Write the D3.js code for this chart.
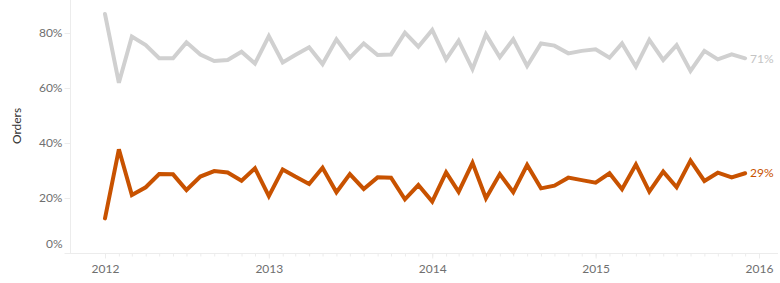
<!DOCTYPE html>
<meta charset="utf-8">

<script src="https://d3js.org/d3.v7.min.js"></script>

<style type="text/css">

body {
  margin: 0;
  background: #fff;
}

.axis text {
  font-family: Lato, "Open Sans", sans-serif;
  font-size: 12px;
  fill: #6f6f6f;
}

.axis path {
  display: none;
}

.axis line {
  stroke: #ececec;
}

.endLabel {
  font-family: Lato, "Open Sans", sans-serif;
  font-size: 12px;
}

</style>

<body>
</body>

<script>

// monthly share of orders, Jan 2012 .. Dec 2015
var months = d3.range(48).map(function(i) { return new Date(2012, i, 1); });

var grayValues = [
  86.9, 61.9, 78.7, 75.6, 70.8, 70.8, 76.6, 72.2, 69.8, 70.2, 73.2, 68.9,
  78.9, 69.3, 72.0, 74.8, 68.7, 77.7, 71.0, 76.2, 72.0, 72.2, 80.1, 75.0,
  81.1, 70.4, 77.2, 66.9, 79.5, 71.2, 77.7, 68.0, 76.2, 75.4, 72.6, 73.5,
  74.1, 71.0, 76.2, 67.8, 77.5, 70.2, 75.6, 66.2, 73.5, 70.4, 72.2, 70.8
];

var orangeValues = [
  12.6, 37.7, 21.1, 23.9, 28.7, 28.6, 22.9, 27.8, 29.8, 29.3, 26.3, 30.8,
  20.7, 30.4, 27.8, 25.1, 31.0, 22.1, 28.7, 23.3, 27.5, 27.4, 19.5, 24.7,
  18.7, 29.3, 22.2, 32.8, 19.9, 28.7, 22.1, 32.0, 23.5, 24.5, 27.4, 26.5,
  25.6, 29.0, 23.2, 32.2, 22.3, 29.6, 23.9, 33.6, 26.2, 29.2, 27.5, 29.0
];

var yTicks = [0, 20, 40, 60, 80];
var yearTicks = [2012, 2013, 2014, 2015, 2016];

var series = [
  {name: 'gray', values: grayValues, color: '#d0d0d0', labelColor: '#c4c4c4'},
  {name: 'orange', values: orangeValues, color: '#c85200', labelColor: '#c85200'}
];

var width = 780, height = 283;
var plotLeft = 70, plotRight = 778, plotTop = 0, plotBottom = 253;

var svg = d3.select('body').append('svg')
    .attr('width', width)
    .attr('height', height);

// scales
var xScale = d3.scaleTime()
  .domain([new Date(2012, 0, 1), new Date(2016, 0, 1)])
  .range([105, 759]);

var yScale = d3.scaleLinear()
  .domain([0, 92])
  .range([plotBottom, plotTop]);

// left border of the pane
svg.append('line')
  .attr('x1', plotLeft + 0.5).attr('x2', plotLeft + 0.5)
  .attr('y1', plotTop).attr('y2', plotBottom)
  .attr('stroke', '#ececec');

// bottom axis line
svg.append('line')
  .attr('x1', plotLeft - 5).attr('x2', plotRight)
  .attr('y1', plotBottom + 0.5).attr('y2', plotBottom + 0.5)
  .attr('stroke', '#ececec');

// y axis
var yAxis = d3.axisLeft(yScale)
  .tickValues(yTicks)
  .tickSize(6)
  .tickPadding(2)
  .tickFormat(function(d) { return d + '%'; });

var yAxisGroup = svg.append('g')
  .attr('class', 'y axis')
  .attr('transform', 'translate(' + (plotLeft + 0.5) + ',0)')
  .call(yAxis);

// tableau nudges the bottom label up so it is not clipped
yAxisGroup.selectAll('.tick text')
  .attr('dy', function(d) { return d === 0 ? '-0.5em' : '0.32em'; });

// minor month ticks
svg.append('g')
  .attr('class', 'x axis minor')
  .attr('transform', 'translate(0,' + (plotBottom + 0.5) + ')')
  .call(d3.axisBottom(xScale)
    .ticks(d3.timeMonth.every(1))
    .tickSize(3)
    .tickFormat(''));

// year ticks
var xAxis = d3.axisBottom(xScale)
  .tickValues(yearTicks.map(function(y) { return new Date(y, 0, 1); }))
  .tickSize(5)
  .tickPadding(6)
  .tickFormat(d3.timeFormat('%Y'));

svg.append('g')
  .attr('class', 'x axis')
  .attr('transform', 'translate(0,' + (plotBottom + 0.5) + ')')
  .call(xAxis);

// axis title
svg.append('text')
  .attr('transform', 'translate(21,' + 126 + ') rotate(-90)')
  .attr('text-anchor', 'middle')
  .style('font-family', 'Lato, "Open Sans", sans-serif')
  .style('font-size', '12px')
  .style('fill', '#333')
  .text('Orders');

// lines
var line = d3.line()
  .x(function(d, i) { return xScale(months[i]); })
  .y(function(d) { return yScale(d); });

svg.selectAll('.seriesLine')
  .data(series).enter().append('path')
  .attr('class', 'seriesLine')
  .attr('d', function(d) { return line(d.values); })
  .attr('fill', 'none')
  .attr('stroke', function(d) { return d.color; })
  .attr('stroke-width', 4)
  .attr('stroke-linejoin', 'miter')
  .attr('stroke-linecap', 'round');

// end labels
svg.selectAll('.endLabel')
  .data(series).enter().append('text')
  .attr('class', 'endLabel')
  .attr('x', xScale(months[47]) + 5)
  .attr('y', function(d) { return yScale(d.values[47]); })
  .attr('dy', '0.35em')
  .style('fill', function(d) { return d.labelColor; })
  .text(function(d) { return Math.round(d.values[47]) + '%'; });

</script>
